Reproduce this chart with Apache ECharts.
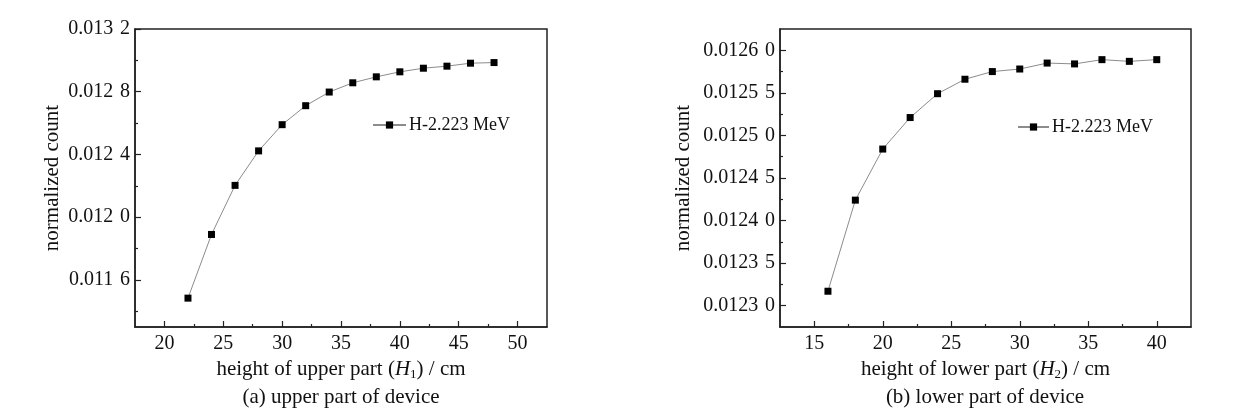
<!DOCTYPE html>
<html>
<head>
<meta charset="utf-8">
<script src="https://cdn.jsdelivr.net/npm/echarts@6/dist/echarts.min.js"></script>
<style>
html,body{margin:0;padding:0;background:#fff;}
#c{width:1247px;height:415px;}
</style>
</head>
<body>
<div id="c"></div>
<script>
// ---- data ----
const hUpper = [22, 24, 26, 28, 30, 32, 34, 36, 38, 40, 42, 44, 46, 48];
const countUpper = [0.011484, 0.011890, 0.012203, 0.012423, 0.012590, 0.012711, 0.012798,
                    0.012857, 0.012895, 0.012927, 0.012950, 0.012963, 0.012982, 0.012986];
const hLower = [16, 18, 20, 22, 24, 26, 28, 30, 32, 34, 36, 38, 40];
const countLower = [0.012317, 0.012424, 0.012484, 0.012521, 0.012549, 0.012566, 0.012575,
                    0.012578, 0.012585, 0.012584, 0.012589, 0.012587, 0.012589];

const seriesName = 'H-2.223 MeV';

// tick values and labels
const xTicksA = [20, 25, 30, 35, 40, 45, 50];
const xMinorA = [22.5, 27.5, 32.5, 37.5, 42.5, 47.5];
const yTicksA = [0.0116, 0.0120, 0.0124, 0.0128, 0.0132];
const yTickLabelsA = ['0.011\u20046', '0.012\u20040', '0.012\u20044', '0.012\u20048', '0.013\u20042'];
const yMinorA = [0.0114, 0.0118, 0.0122, 0.0126, 0.0130];

const xTicksB = [15, 20, 25, 30, 35, 40];
const xMinorB = [17.5, 22.5, 27.5, 32.5, 37.5];
const yTicksB = [0.01230, 0.01235, 0.01240, 0.01245, 0.01250, 0.01255, 0.01260];
const yTickLabelsB = ['0.0123\u20040', '0.0123\u20045', '0.0124\u20040', '0.0124\u20045',
                      '0.0125\u20040', '0.0125\u20045', '0.0126\u20040'];
const yMinorB = [0.012325, 0.012375, 0.012425, 0.012475, 0.012525, 0.012575];

const xTitleA = 'height of upper part ({i|H}{s|1}) / cm';
const xTitleB = 'height of lower part ({i|H}{s|2}) / cm';
const yTitle = 'normalized count';
const captionA = '(a) upper part of device';
const captionB = '(b) lower part of device';

// ---- styles ----
const FONT = 'Liberation Serif';
const FS = 20;      // tick labels
const FT = 21;      // axis titles / captions
const FL = 18;      // legend
const AX = '#222';

function lookup(ticks, labels) {
  return function (v) {
    for (let i = 0; i < ticks.length; i++) {
      if (Math.abs(ticks[i] - v) < 1e-9) return labels[i];
    }
    return '';
  };
}

const richName = {
  i: {fontFamily: FONT, fontSize: FT, fontStyle: 'italic', color: '#111'},
  s: {fontFamily: FONT, fontSize: 13, color: '#111', padding: [10, 0, 0, 0]}
};

function xMain(gi, min, max, ticks, name) {
  return {
    type: 'value', gridIndex: gi, min: min, max: max, position: 'bottom',
    axisLine: {show: true, lineStyle: {color: AX, width: 1.5}},
    axisTick: {show: true, inside: true, length: 6, customValues: ticks, lineStyle: {color: AX, width: 1.2}},
    axisLabel: {show: true, margin: 7, customValues: ticks, fontFamily: FONT, fontSize: FS, color: '#111'},
    splitLine: {show: false},
    name: name, nameLocation: 'middle', nameGap: 30,
    nameTextStyle: {fontFamily: FONT, fontSize: FT, color: '#111', rich: richName}
  };
}
function xMinor(gi, min, max, ticks) {
  return {
    type: 'value', gridIndex: gi, min: min, max: max, position: 'bottom',
    axisLine: {show: false},
    axisTick: {show: true, inside: true, length: 3, customValues: ticks, lineStyle: {color: AX, width: 1.2}},
    axisLabel: {show: false}, splitLine: {show: false}
  };
}
function yMain(gi, min, max, ticks, labels, gap) {
  return {
    type: 'value', gridIndex: gi, min: min, max: max, position: 'left',
    axisLine: {show: true, lineStyle: {color: AX, width: 1.5}},
    axisTick: {show: true, inside: true, length: 6, customValues: ticks, lineStyle: {color: AX, width: 1.2}},
    axisLabel: {show: true, margin: 5, customValues: ticks, formatter: lookup(ticks, labels),
                fontFamily: FONT, fontSize: FS, color: '#111', padding: [4, 0, 0, 0]},
    splitLine: {show: false},
    name: yTitle, nameLocation: 'middle', nameGap: gap,
    nameTextStyle: {fontFamily: FONT, fontSize: FT, color: '#111'}
  };
}
function yMinor(gi, min, max, ticks) {
  return {
    type: 'value', gridIndex: gi, min: min, max: max, position: 'left',
    axisLine: {show: false},
    axisTick: {show: true, inside: true, length: 3, customValues: ticks, lineStyle: {color: AX, width: 1.2}},
    axisLabel: {show: false}, splitLine: {show: false}
  };
}

function seriesOf(xs, ys, xi, yi) {
  return {
    type: 'line', name: seriesName, xAxisIndex: xi, yAxisIndex: yi,
    data: xs.map((x, i) => [x, ys[i]]),
    symbol: 'rect', symbolSize: 7, smooth: false,
    lineStyle: {color: '#8c8c8c', width: 1},
    itemStyle: {color: '#000'},
    emphasis: {disabled: true},
    animation: false
  };
}

const chart = echarts.init(document.getElementById('c'), null, {renderer: 'canvas'});
chart.setOption({
  backgroundColor: '#ffffff',
  animation: false,
  grid: [
    {left: 135, top: 29, width: 412, height: 298, show: true, borderColor: AX, borderWidth: 1.5, backgroundColor: 'transparent'},
    {left: 780, top: 29, width: 411, height: 298, show: true, borderColor: AX, borderWidth: 1.5, backgroundColor: 'transparent'}
  ],
  xAxis: [
    xMain(0, 17.5, 52.5, xTicksA, xTitleA),
    xMinor(0, 17.5, 52.5, xMinorA),
    xMain(1, 12.5, 42.5, xTicksB, xTitleB),
    xMinor(1, 12.5, 42.5, xMinorB)
  ],
  yAxis: [
    yMain(0, 0.0113, 0.0132, yTicksA, yTickLabelsA, 72),
    yMinor(0, 0.0113, 0.0132, yMinorA),
    yMain(1, 0.012275, 0.012625, yTicksB, yTickLabelsB, 86),
    yMinor(1, 0.012275, 0.012625, yMinorB)
  ],
  legend: [
    {left: 372, top: 116, itemWidth: 33, itemHeight: 9, itemGap: 0, padding: 0,
     data: [seriesName], selectedMode: false,
     textStyle: {fontFamily: FONT, fontSize: FL, color: '#111', padding: [0, 0, 0, -2]}},
    {left: 1017, top: 118, itemWidth: 31, itemHeight: 9, itemGap: 0, padding: 0,
     data: [seriesName], selectedMode: false,
     textStyle: {fontFamily: FONT, fontSize: FL, color: '#111', padding: [0, 0, 0, -2]}}
  ],
  series: [
    seriesOf(hUpper, countUpper, 0, 0),
    seriesOf(hLower, countLower, 2, 2)
  ],
  graphic: [
    {type: 'text', style: {text: captionA, x: 341, y: 397, textAlign: 'center', textVerticalAlign: 'middle',
      font: FT + 'px "' + FONT + '"', fill: '#111'}},
    {type: 'text', style: {text: captionB, x: 985, y: 397, textAlign: 'center', textVerticalAlign: 'middle',
      font: FT + 'px "' + FONT + '"', fill: '#111'}}
  ]
});
</script>
</body>
</html>
